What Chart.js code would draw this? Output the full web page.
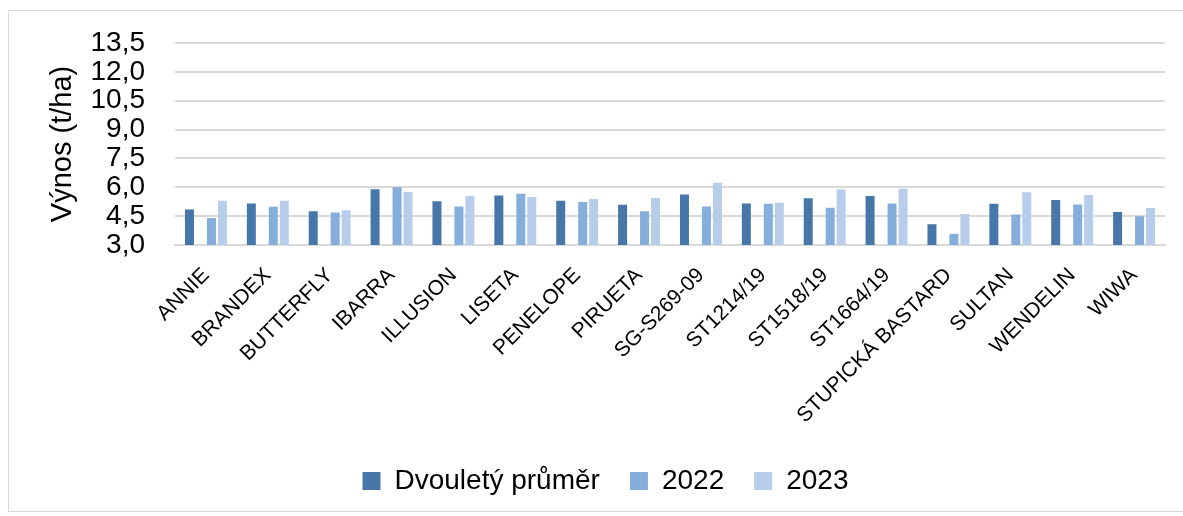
<!DOCTYPE html>
<html>
<head>
<meta charset="utf-8">
<script src="https://cdn.jsdelivr.net/npm/chart.js@4/dist/chart.umd.min.js"></script>
<style>
  body { margin: 0; background: #fff; }
  #box { position: absolute; left: 8px; top: 10px; width: 1174px; height: 500px; border: 1px solid #d9d9d9; }
</style>
</head>
<body>
<div id="box"><canvas id="yieldChart" width="1174" height="500"></canvas></div>
<script>
const categories = ["ANNIE", "BRANDEX", "BUTTERFLY", "IBARRA", "ILLUSION", "LISETA", "PENELOPE", "PIRUETA",
  "SG-S269-09", "ST1214/19", "ST1518/19", "ST1664/19", "STUPICKÁ BASTARD", "SULTAN", "WENDELIN", "WIWA"];
const prumer = [4.85, 5.16, 4.76, 5.90, 5.27, 5.57, 5.30, 5.09, 5.62, 5.16, 5.43, 5.55, 4.08, 5.15, 5.34, 4.71];
const rok2022 = [4.40, 4.99, 4.69, 6.00, 5.00, 5.67, 5.23, 4.76, 5.00, 5.15, 4.94, 5.16, 3.58, 4.59, 5.11, 4.50];
const rok2023 = [5.30, 5.30, 4.80, 5.76, 5.55, 5.50, 5.39, 5.44, 6.23, 5.20, 5.88, 5.92, 4.61, 5.74, 5.60, 4.92];
// empty series keeps the gap between the average and the two years
const mezera = categories.map(() => null);

const font = "'Liberation Sans', Arial, sans-serif";

const ctx = document.getElementById("yieldChart").getContext("2d");
new Chart(ctx, {
  type: "bar",
  data: {
    labels: categories,
    datasets: [
      { label: "Dvouletý průměr", data: prumer, backgroundColor: "#4677a8" },
      { label: "", data: mezera, backgroundColor: "#ffffff" },
      { label: "2022", data: rok2022, backgroundColor: "#85aedb" },
      { label: "2023", data: rok2023, backgroundColor: "#b7cde9" }
    ]
  },
  options: {
    responsive: false,
    animation: false,
    layout: { padding: { left: 37, right: 18, top: 32, bottom: 6 } },
    datasets: { bar: { categoryPercentage: 0.71, barPercentage: 0.82 } },
    scales: {
      x: {
        grid: { display: false, drawTicks: false },
        border: { color: "#d9d9d9", width: 2 },
        ticks: { color: "#000", font: { family: font, size: 21 }, minRotation: 45, maxRotation: 45, autoSkip: false, padding: 18 },
        afterFit: (scale) => { scale.height = 192; }
      },
      y: {
        min: 3, max: 13.5,
        grid: { color: "#d9d9d9", lineWidth: 2, drawTicks: true, tickLength: 27, tickColor: "rgba(0,0,0,0)" },
        border: { display: false },
        ticks: {
          stepSize: 1.5, autoSkip: false, padding: 3, color: "#000", font: { family: font, size: 28 },
          callback: (v) => v.toFixed(1).replace(".", ",")
        },
        title: { display: true, text: "Výnos (t/ha)", color: "#000", font: { family: font, size: 29 }, padding: 0 },
        afterFit: (scale) => { scale.width = 166 - 37; }
      }
    },
    plugins: {
      tooltip: { enabled: false },
      legend: {
        position: "bottom",
        labels: {
          color: "#000", font: { family: font, size: 28 }, boxWidth: 18, boxHeight: 18, padding: 30,
          filter: (item) => item.text !== ""
        }
      }
    }
  }
});
</script>
</body>
</html>
